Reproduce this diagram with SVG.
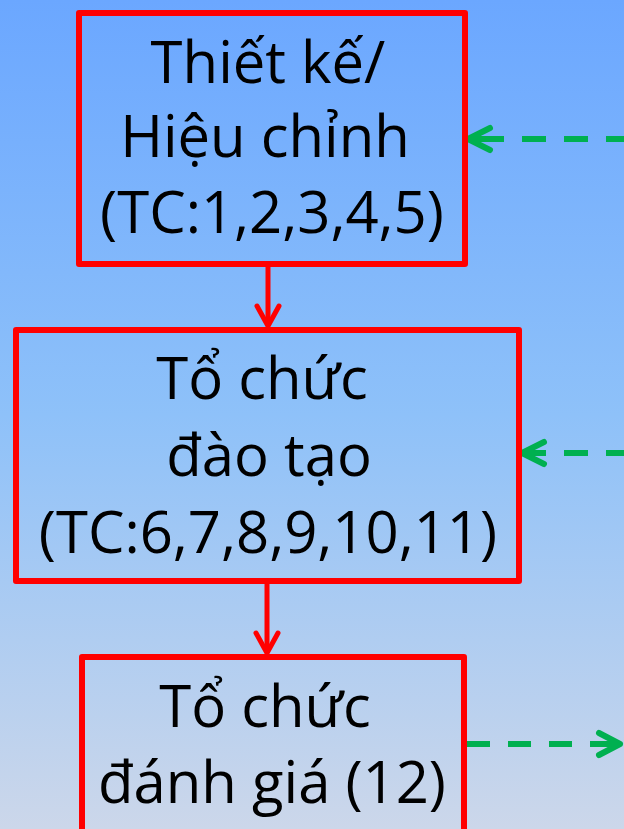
<svg xmlns="http://www.w3.org/2000/svg" width="624" height="829" viewBox="0 0 624 829">
  <defs>
    <linearGradient id="bg" x1="0" y1="0" x2="0" y2="1">
      <stop offset="0" stop-color="#6ba7ff"/>
      <stop offset="0.5" stop-color="#8ec1f9"/>
      <stop offset="1" stop-color="#ccd7ea"/>
    </linearGradient>
    <style>
      .box { fill: none; stroke: #ff0000; stroke-width: 6; stroke-linejoin: round; }
      .lbl { font-family: "Open Sans", "Noto Sans", "DejaVu Sans", sans-serif; font-size: 58px; fill: #000000; text-anchor: middle; }
      .red { fill: none; stroke: #ff0000; stroke-width: 5; stroke-linecap: butt; }
      .redhead { fill: none; stroke: #ff0000; stroke-width: 5; stroke-linecap: round; stroke-linejoin: round; }
      .dash { fill: none; stroke: #00b050; stroke-width: 6; stroke-dasharray: 24 18; }
      .greenhead { fill: none; stroke: #00b050; stroke-width: 6; stroke-linecap: round; stroke-linejoin: round; }
    </style>
  </defs>
  <rect x="0" y="0" width="624" height="829" fill="url(#bg)"/>

  <g id="connectors">
    <line class="red" x1="268" y1="267" x2="268" y2="326"/>
    <path class="redhead" d="M 257 306 L 268 326 L 279 306"/>
    <line class="red" x1="267" y1="584" x2="267" y2="653"/>
    <path class="redhead" d="M 256 633 L 267 653 L 278 633"/>

    <path class="dash" d="M 624 139 H 468" stroke-dashoffset="6"/>
    <path class="greenhead" d="M 490 128 L 468 139 L 490 150 M 468 139 H 484"/>
    <path class="dash" d="M 624 453 H 522" stroke-dashoffset="6"/>
    <path class="greenhead" d="M 544 442 L 522 453 L 544 464 M 522 453 H 540"/>
    <path class="dash" d="M 467 744 H 620" style="stroke-dasharray: 23 18"/>
    <path class="greenhead" d="M 599 733 L 620 744 L 599 755 M 604 744 H 620"/>
  </g>

  <g id="node-thiet-ke">
    <rect class="box" x="79" y="13" width="386" height="251"/>
    <text class="lbl" x="268" y="83">Thiết kế/</text>
    <text class="lbl" x="265" y="157">Hiệu chỉnh</text>
    <text class="lbl" x="272" y="233">(TC:1,2,3,4,5)</text>
  </g>

  <g id="node-to-chuc-dao-tao">
    <rect class="box" x="16" y="330" width="503" height="251"/>
    <text class="lbl" x="262" y="399">Tổ chức</text>
    <text class="lbl" x="269" y="476">đào tạo</text>
    <text class="lbl" x="268" y="553">(TC:6,7,8,9,10,11)</text>
  </g>

  <g id="node-to-chuc-danh-gia">
    <rect class="box" x="82" y="657" width="382" height="190"/>
    <text class="lbl" x="265" y="727">Tổ chức</text>
    <text class="lbl" x="272" y="803">đánh giá (12)</text>
  </g>
</svg>
